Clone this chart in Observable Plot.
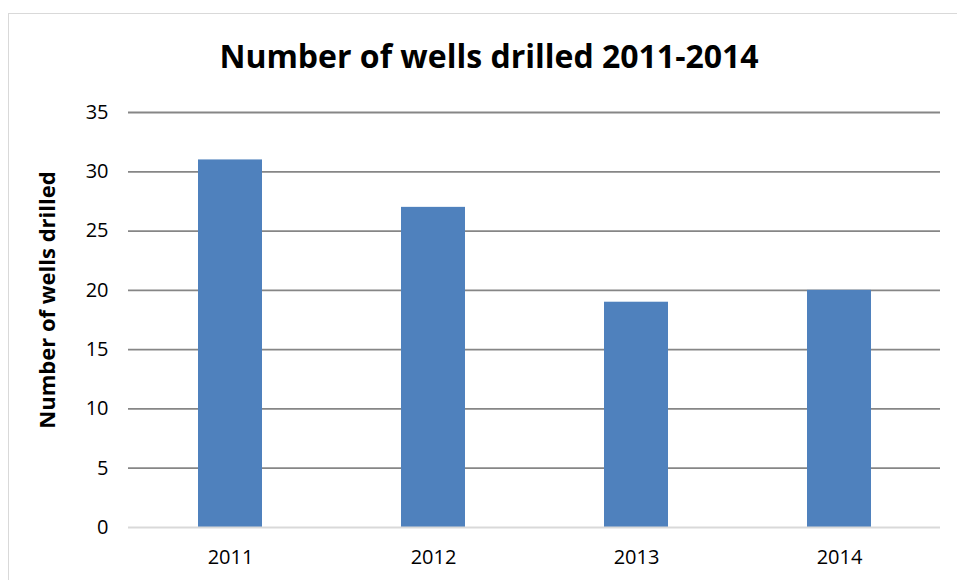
<!DOCTYPE html>
<html>
<head>
<meta charset="utf-8">
<script src="https://cdn.jsdelivr.net/npm/d3@7"></script>
<script src="https://cdn.jsdelivr.net/npm/@observablehq/plot@0.6"></script>
<style>
  html, body { margin: 0; padding: 0; background: #fff; }
  #wrap { position: relative; width: 957px; height: 580px; overflow: hidden; font-family: "Open Sans", Lato, sans-serif; }
  #frame { position: absolute; left: 8px; top: 13px; width: 1000px; height: 700px; border: 1.5px solid #d9d9d9; box-sizing: border-box; }
  #title { position: absolute; left: 0; width: 978px; top: 34px; text-align: center; font-size: 32px; font-weight: bold; color: #000; }
  #chart { position: absolute; left: 0; top: 0; }
</style>
</head>
<body>
<div id="wrap">
  <div id="frame"></div>
  <div id="title">Number of wells drilled 2011-2014</div>
  <div id="chart"></div>
</div>
<script>
const years = ["2011", "2012", "2013", "2014"];
const wells = [31, 27, 19, 20];
const yTicks = [0, 5, 10, 15, 20, 25, 30, 35];
const yLabel = "Number of wells drilled";

const data = years.map((y, i) => ({year: y, value: wells[i]}));

const plot = Plot.plot({
  width: 957,
  height: 580,
  marginLeft: 128,
  marginRight: 17,
  marginTop: 112,
  marginBottom: 53,
  style: {fontFamily: "'Open Sans', Lato, sans-serif", fontSize: "20px", color: "#000", background: "transparent"},
  x: {domain: years, paddingInner: 0.685, paddingOuter: 0.3425, label: null},
  y: {domain: [0, 35], label: null},
  marks: [
    Plot.ruleY(yTicks.filter(t => t > 0), {stroke: "#868686", strokeWidth: 1.8}),
    Plot.barY(data, {x: "year", y: "value", fill: "#4f81bd"}),
    Plot.ruleY([0], {stroke: "#d9d9d9", strokeWidth: 2}),
    Plot.axisY({ticks: yTicks, tickSize: 0, tickPadding: 20, label: null, fontSize: 20}),
    Plot.axisX({tickSize: 0, tickPadding: 22, label: null, fontSize: 20}),
    Plot.text([yLabel], {frameAnchor: "left", textAnchor: "middle", dx: -81, dy: -20, rotate: -90, fontSize: 22, fontWeight: "bold", text: d => d})
  ]
});
document.getElementById("chart").appendChild(plot);
</script>
</body>
</html>
